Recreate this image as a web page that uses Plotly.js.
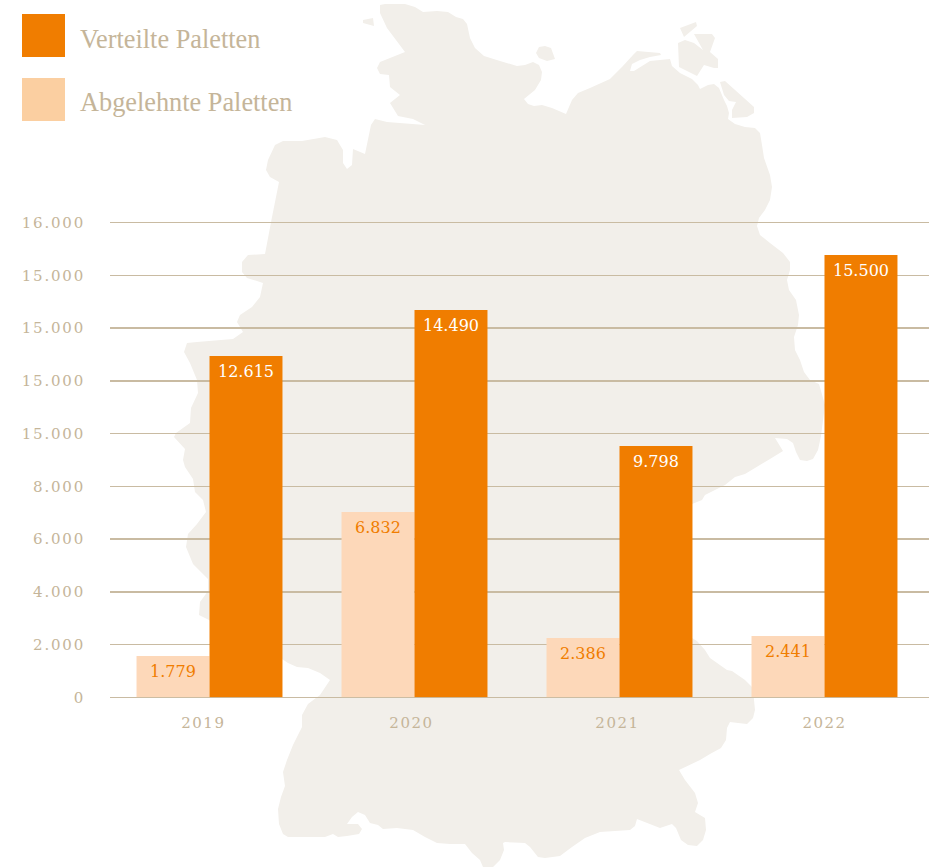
<!DOCTYPE html>
<html>
<head>
<meta charset="utf-8">
<script src="https://cdn.plot.ly/plotly-3.0.1.min.js"></script>
<style>
html,body{margin:0;padding:0;background:#fff}
#chart{width:937px;height:867px}
.ytick text{letter-spacing:1.8px}
.xtick text{letter-spacing:1.5px}
</style>
</head>
<body>
<div id="chart"></div>
<script>
// Chart content
const positions = [0, 1, 2, 3];
const years = ['2019', '2020', '2021', '2022'];
const yearTickPositions = [-0.03, 0.985, 1.99, 3.0];
const rejectedName = 'Abgelehnte Paletten';
const deliveredName = 'Verteilte Paletten';
// Bar heights as read against the drawn axis
const rejectedHeights = [1566, 7028, 2249, 2325];
const deliveredHeights = [12944, 14689, 9531, 16775];
// Labels as printed in the source (they differ from the axis reading)
const rejectedLabels = ['1.779', '6.832', '2.386', '2.441'];
const deliveredLabels = ['12.615', '14.490', '9.798', '15.500'];
const yTickValues = [0, 2000, 4000, 6000, 8000, 10000, 12000, 14000, 16000, 18000];
const yTickTexts = ['0', '2.000', '4.000', '6.000', '8.000', '15.000', '15.000', '15.000', '15.000', '16.000'];

// Decorative background silhouette, in page pixels
const mainland = [[380,5],[385,4],[405,4],[415,7],[423,12],[437,11],[448,12],[456,17],[463,19],[467,24],[470,38],[475,48],[484,56],[500,61],[517,66],[525,65],[533,62],[539,65],[542,72],[541,80],[535,90],[524,99],[528,104],[534,106],[542,105],[552,108],[566,114],[572,100],[578,93],[590,88],[610,79],[622,67],[633,55],[637,51],[660,53],[661,55],[650,57],[640,60],[632,64],[630,71],[634,71],[642,66],[650,61],[670,59],[672,66],[680,73],[692,79],[698,85],[700,89],[708,85],[714,84],[719,88],[724,100],[727,106],[729,113],[728,119],[735,124],[745,127],[755,128],[760,133],[762,145],[764,158],[770,175],[772,187],[770,200],[765,210],[759,218],[757,226],[760,235],[770,243],[783,253],[790,262],[790,270],[787,280],[789,290],[796,300],[799,315],[798,325],[794,337],[795,350],[800,360],[804,372],[810,380],[819,384],[825,405],[821,436],[818,450],[813,459],[807,461],[800,460],[796,452],[793,443],[787,439],[775,438],[783,451],[770,459],[755,468],[745,474],[735,477],[725,485],[715,490],[705,495],[702,500],[692,504],[680,540],[680,600],[692,638],[697,641],[705,650],[710,658],[727,670],[732,671],[745,680],[753,688],[754,700],[755,710],[753,718],[747,724],[738,723],[730,722],[727,728],[726,740],[721,748],[710,754],[700,760],[679,770],[685,780],[695,793],[698,803],[695,812],[705,818],[706,830],[703,840],[697,846],[688,845],[681,840],[676,828],[672,824],[660,828],[637,819],[635,826],[630,830],[600,832],[585,838],[572,847],[560,856],[545,858],[538,857],[530,847],[525,843],[505,842],[503,843],[504,850],[500,860],[493,867],[483,867],[480,860],[472,853],[465,844],[450,844],[437,843],[425,837],[413,830],[397,828],[383,829],[378,825],[370,823],[365,815],[358,812],[352,817],[347,824],[358,824],[362,829],[359,834],[347,836],[338,837],[333,834],[325,837],[288,837],[283,834],[279,824],[278,809],[281,797],[285,786],[283,772],[287,760],[293,745],[302,727],[302,715],[308,704],[320,695],[330,680],[320,673],[308,668],[297,667],[288,663],[282,659],[240,640],[209,620],[199,615],[200,602],[208,591],[208,579],[193,564],[186,547],[188,534],[197,524],[206,512],[203,500],[195,492],[193,479],[185,467],[183,460],[185,449],[174,437],[176,433],[190,423],[191,408],[198,393],[197,380],[190,363],[184,352],[187,343],[197,342],[233,339],[243,332],[237,322],[240,315],[252,307],[260,297],[263,283],[257,281],[247,278],[242,272],[242,262],[248,255],[265,254],[272,217],[279,182],[270,177],[266,170],[268,160],[275,145],[283,141],[302,141],[325,137],[337,140],[343,150],[343,163],[347,169],[352,165],[353,149],[365,154],[371,125],[375,119],[387,122],[425,125],[413,119],[398,116],[390,103],[400,95],[390,87],[389,75],[380,74],[377,68],[380,62],[405,52],[387,28],[380,13]];
const islandA = [[363,20],[373,18],[374,26],[363,23]];
const islandB = [[536,53],[539,47],[545,46],[551,48],[555,59],[547,61],[539,58]];
const islandC = [[680,28],[696,22],[697,26],[684,37]];
const islandD = [[694,34],[712,34],[715,38],[710,52],[718,59],[718,68],[714,68],[704,65],[697,76],[679,67],[678,43],[685,40],[694,43],[703,50]];
const islandE = [[720,82],[725,81],[754,107],[754,113],[747,117],[732,118],[732,110],[736,102],[729,101],[724,95]];

const W = 937, H = 867;
const LEGEND_FONT = '"Liberation Serif", Georgia, serif';
const NUM_FONT = '"DejaVu Serif", Georgia, serif';
const TAN = '#c5b599', GRID = '#c9bba2', ORANGE = '#f07d00', PEACH = '#fdd8b9', SWATCH = '#fbcfa1', MAP = '#f2efea';

const toPath = pts => pts.map((p, i) => (i ? 'L' : 'M') + (p[0] / W).toFixed(5) + ',' + (1 - p[1] / H).toFixed(5)).join(' ') + ' Z';
const mapPath = [mainland, islandA, islandB, islandC, islandD, islandE].map(toPath).join(' ');

const rect = (x0, y0, x1, y1, color) => ({type: 'rect', xref: 'paper', yref: 'paper', layer: 'above',
  x0: x0 / W, x1: x1 / W, y0: 1 - y1 / H, y1: 1 - y0 / H, fillcolor: color, line: {width: 0}});

const barWidth = 0.356;
const valueAnn = (labels, heights, dx, color) => labels.map((t, i) => ({
  x: positions[i] + dx, y: heights[i], xref: 'x', yref: 'y', text: t, showarrow: false,
  xanchor: 'center', yanchor: 'top', yshift: -4, align: 'center',
  font: {family: NUM_FONT, size: 16, color}
}));

const legendAnn = (name, y) => ({xref: 'paper', yref: 'paper', x: 80 / W, y: 1 - y / H, text: name, showarrow: false,
  xanchor: 'left', yanchor: 'middle', xshift: -2, font: {family: LEGEND_FONT, size: 26.3, color: TAN}});

const data = [
  {type: 'bar', name: rejectedName, x: positions, y: rejectedHeights, marker: {color: PEACH, line: {width: 0}}, hoverinfo: 'skip'},
  {type: 'bar', name: deliveredName, x: positions, y: deliveredHeights, marker: {color: ORANGE, line: {width: 0}}, hoverinfo: 'skip'}
];

const layout = {
  width: W, height: H, margin: {l: 0, r: 0, t: 0, b: 0}, showlegend: false,
  paper_bgcolor: '#fff', plot_bgcolor: 'rgba(0,0,0,0)',
  barmode: 'group', bargap: 1 - 2 * barWidth, bargroupgap: 0,
  xaxis: {type: 'linear', domain: [110 / W, 929 / W], range: [-0.4854, 3.5098],
    tickmode: 'array', tickvals: yearTickPositions, ticktext: years, ticks: '', ticklabelstandoff: 15,
    showgrid: false, zeroline: false, showline: false, tickfont: {family: NUM_FONT, size: 15, color: TAN}},
  yaxis: {domain: [1 - 697.3 / H, 1 - 215 / H], range: [0, 18000 * (697.3 - 215) / 474.6],
    tickmode: 'array', tickvals: yTickValues, ticktext: yTickTexts,
    ticks: '', ticklabelstandoff: 24, showgrid: true, gridcolor: GRID, gridwidth: 1.5,
    zeroline: true, zerolinecolor: GRID, zerolinewidth: 1.5, showline: false,
    tickfont: {family: NUM_FONT, size: 15, color: TAN}},
  shapes: [
    {type: 'path', xref: 'paper', yref: 'paper', layer: 'below', path: mapPath, fillcolor: MAP, line: {width: 0}},
    rect(22, 14, 65, 57, ORANGE),
    rect(22, 78, 65, 121, SWATCH)
  ],
  annotations: [
    legendAnn(deliveredName, 39),
    legendAnn(rejectedName, 103),
    ...valueAnn(rejectedLabels, rejectedHeights, -barWidth / 2, ORANGE),
    ...valueAnn(deliveredLabels, deliveredHeights, barWidth / 2, '#ffffff')
  ]
};

Plotly.newPlot('chart', data, layout, {displayModeBar: false, staticPlot: true});
</script>
</body>
</html>
